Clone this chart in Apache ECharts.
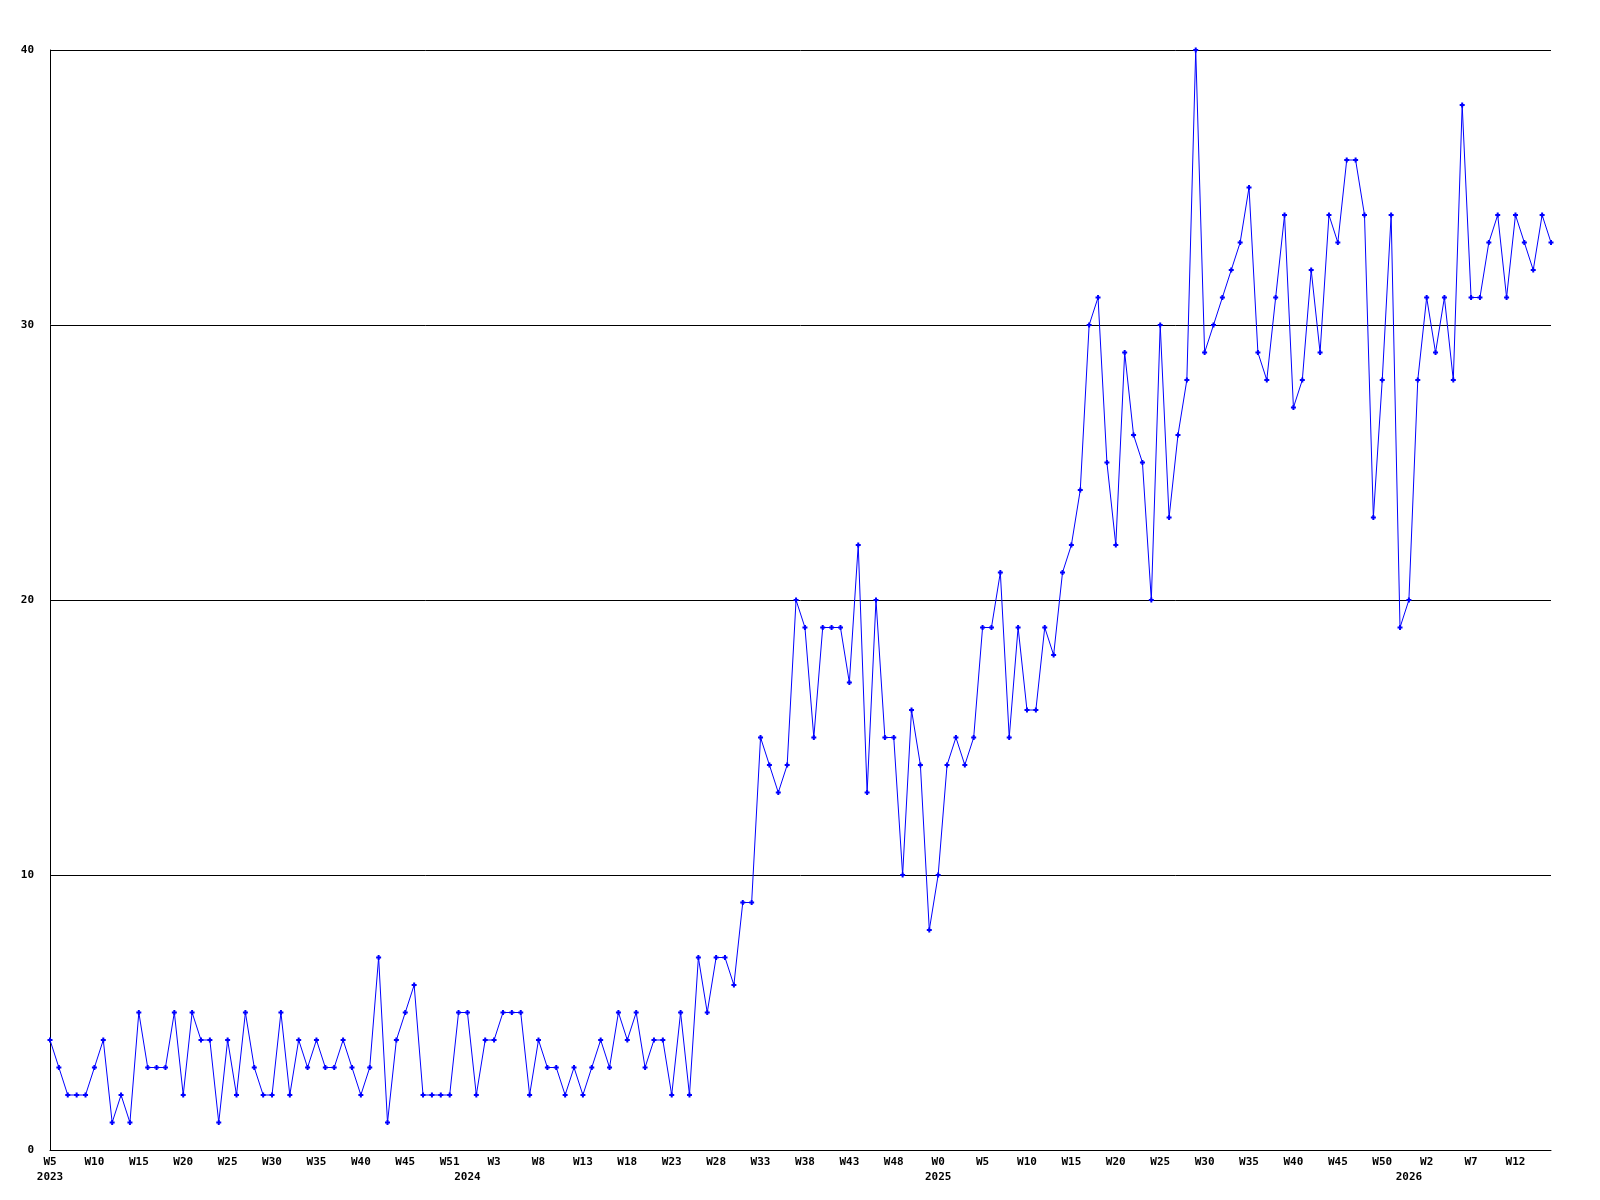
<!DOCTYPE html>
<html>
<head>
<meta charset="utf-8">
<script src="https://cdn.jsdelivr.net/npm/echarts@6/dist/echarts.min.js"></script>
<style>
html,body{margin:0;padding:0;background:#fff;}
#chart{width:1600px;height:1200px;}
</style>
</head>
<body>
<div id="chart"></div>
<script>
// weekly values, 2023 W5 .. 2026 ~W16
const values = [
  4,3,2,2,2,3,4,1,2,1,
  5,3,3,3,5,2,5,4,4,1,
  4,2,5,3,2,2,5,2,4,3,
  4,3,3,4,3,2,3,7,1,4,
  5,6,2,2,2,2,5,5,2,4,
  4,5,5,5,2,4,3,3,2,3,
  2,3,4,3,5,4,5,3,4,4,
  2,5,2,7,5,7,7,6,9,9,
  15,14,13,14,20,19,15,19,19,19,
  17,22,13,20,15,15,10,16,14,8,
  10,14,15,14,15,19,19,21,15,19,
  16,16,19,18,21,22,24,30,31,25,
  22,29,26,25,20,30,23,26,28,40,
  29,30,31,32,33,35,29,28,31,34,
  27,28,32,29,34,33,36,36,34,23,
  28,34,19,20,28,31,29,31,28,38,
  31,31,33,34,31,34,33,32,34,33
];
const tickIdx = [0,5,10,15,20,25,30,35,40,45,50,55,60,65,70,75,80,85,90,95,100,105,110,115,120,125,130,135,140,145,150,155,160,165];
const tickLabels = ['W5','W10','W15','W20','W25','W30','W35','W40','W45','W51','W3','W8','W13','W18','W23','W28','W33','W38','W43','W48','W0','W5','W10','W15','W20','W25','W30','W35','W40','W45','W50','W2','W7','W12'];
const yearIdx = [0,47,100,153];
const yearLabels = ['2023','2024','2025','2026'];
const yTicks = [0,10,20,30,40];

const categories = values.map((v,i)=>String(i));
const tickMap = {}; tickIdx.forEach((k,j)=>tickMap[k]=tickLabels[j]);
const yearMap = {}; yearIdx.forEach((k,j)=>yearMap[k]=yearLabels[j]);

const FONT = 'DejaVu Sans Mono';
const chart = echarts.init(document.getElementById('chart'), null, {renderer:'canvas'});
chart.setOption({
  animation:false,
  backgroundColor:'#ffffff',
  grid:{left:50,right:49,top:50,bottom:50,containLabel:false},
  xAxis:[{
    type:'category',data:categories,boundaryGap:false,position:'bottom',
    axisLine:{show:true,lineStyle:{color:'#000',width:1}},
    axisTick:{show:false},
    splitLine:{show:false},
    axisLabel:{
      interval:(i)=>tickMap[i]!==undefined,
      formatter:(v,i)=>tickMap[i]||'',
      color:'#000',fontFamily:FONT,fontWeight:'bold',fontSize:11,margin:7
    }
  },{
    type:'category',data:categories,boundaryGap:false,position:'bottom',offset:15,
    axisLine:{show:false},axisTick:{show:false},splitLine:{show:false},
    axisLabel:{
      interval:(i)=>yearMap[i]!==undefined,
      formatter:(v,i)=>yearMap[i]||'',
      color:'#000',fontFamily:FONT,fontWeight:'bold',fontSize:11,margin:7
    }
  }],
  yAxis:{
    type:'value',min:yTicks[0],max:yTicks[yTicks.length-1],interval:10,
    axisLine:{show:true,lineStyle:{color:'#000',width:1}},
    axisTick:{show:false},
    splitLine:{show:true,lineStyle:{color:'#000',width:1}},
    axisLabel:{color:'#000',fontFamily:FONT,fontWeight:'bold',fontSize:11,margin:16}
  },
  series:[{
    type:'line',data:values,xAxisIndex:0,
    symbol:'path://M1.5,0H3.5V1.5H5V3.5H3.5V5H1.5V3.5H0V1.5H1.5Z',symbolSize:5,showAllSymbol:true,
    lineStyle:{color:'#0000ff',width:1},
    itemStyle:{color:'#0000ff',borderWidth:0},
    emphasis:{disabled:true}
  }]
});
</script>
</body>
</html>
